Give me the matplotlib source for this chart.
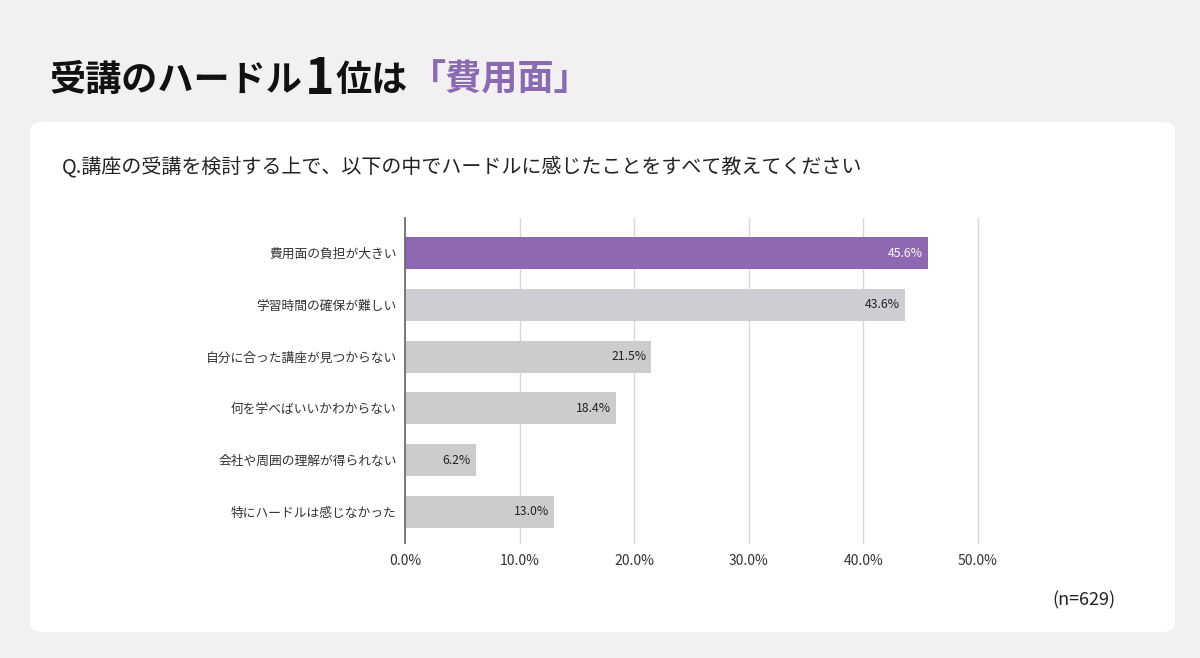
import matplotlib
matplotlib.use("Agg")
import matplotlib.pyplot as plt
from matplotlib.patches import FancyBboxPatch

plt.rcParams['font.family'] = ['Noto Sans CJK JP', 'DejaVu Sans']

categories = ["費用面の負担が大きい", "学習時間の確保が難しい", "自分に合った講座が見つからない",
              "何を学べばいいかわからない", "会社や周囲の理解が得られない", "特にハードルは感じなかった"]
values = [45.6, 43.6, 21.5, 18.4, 6.2, 13.0]
xticks = [0, 10, 20, 30, 40, 50]
title_parts = ["受講のハードル", "1", "位は", "「費用面」"]
question = "Q.講座の受講を検討する上で、以下の中でハードルに感じたことをすべて教えてください"
note = "(n=629)"

W, H = 1200, 658
fig = plt.figure(figsize=(W/100, H/100), dpi=100)
fig.patch.set_facecolor('#f2f0f3')

card = FancyBboxPatch((30/W, 1-632/H), 1145/W, 510/H,
                      boxstyle="round,pad=0,rounding_size=0.012",
                      transform=fig.transFigure, facecolor='white', edgecolor='none', zorder=-10)
fig.patches.append(card)

# title pieces
renderer = fig.canvas.get_renderer()
x = 50/W
ty = 1-80/H
styles = [dict(size=26, color='#111111'), dict(size=36, color='#111111'),
          dict(size=26, color='#111111'), dict(size=26, color='#8a6bb0')]
gaps = [0, 2, 1, 2]
for part, st, g in zip(title_parts, styles, gaps):
    x += g/W
    t = fig.text(x, ty, part, fontweight='bold', va='center', ha='left', **st)
    bb = t.get_window_extent(renderer=renderer)
    x += bb.width/W

fig.text(62/W, 1-167/H, question, fontsize=14.4, color='#222222', va='center', ha='left')
fig.text(1115/W, 1-600/H, note, fontsize=13, color='#222222', va='center', ha='right')

ax = fig.add_axes([405/W, 1-543/H, (978-405)/W, (543-218)/H])
ax.set_zorder(5)
ax.set_facecolor('none')
colors = ['#8e68b0', '#cfccd3', '#cdcccd', '#cdcccd', '#cdcccd', '#cdcccd']
ypos = list(range(len(categories)))
ax.barh(ypos, values, height=0.62, color=colors, zorder=2)
for i, v in enumerate(values):
    ax.text(v - 0.45, i, f"{v:.1f}%", ha='right', va='center', fontsize=8.8,
            color='white' if i == 0 else '#222222', zorder=3)
ax.set_ylim(5.6, -0.68)
ax.set_xlim(0, 50)
ax.set_xticks(xticks)
ax.set_xticklabels([f"{t:.1f}%" for t in xticks], fontsize=10, color='#333333')
ax.set_yticks(ypos)
ax.set_yticklabels(categories, fontsize=9.2, color='#333333')
ax.tick_params(axis='both', length=0)
ax.tick_params(axis='x', pad=8)
ax.tick_params(axis='y', pad=6)
ax.xaxis.grid(True, color='#d8d8d8', linewidth=1, zorder=0)
for gl in ax.xaxis.get_gridlines():
    gl.set_clip_on(False)
ax.set_axisbelow(True)
for s in ['top', 'right', 'bottom']:
    ax.spines[s].set_visible(False)
ax.spines['left'].set_color('#666666')
ax.spines['left'].set_linewidth(1.2)
ax.spines['left'].set_zorder(4)

fig.savefig('out.png', dpi=100, facecolor=fig.get_facecolor())
